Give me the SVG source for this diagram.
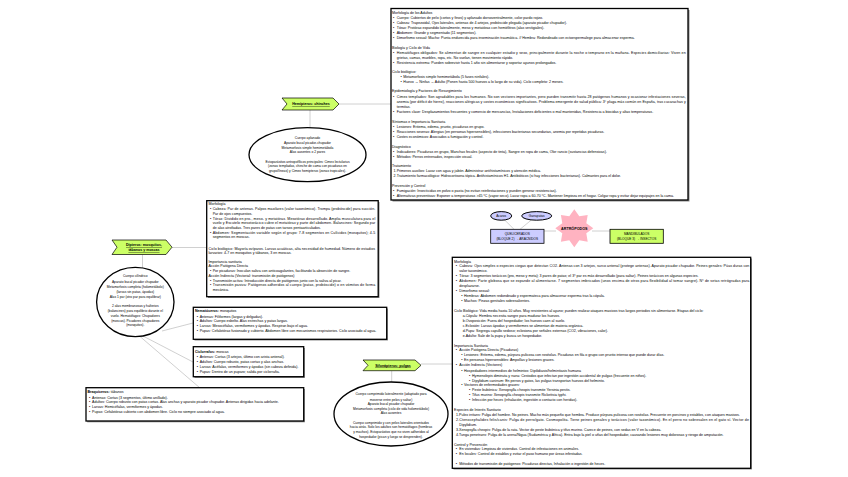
<svg xmlns="http://www.w3.org/2000/svg" width="848" height="477" viewBox="0 0 848 477">
<style>
text{font-family:"Liberation Sans",Arial,sans-serif;font-size:3.6px;fill:#000}
.e text,text.c{text-anchor:middle}
.e text{font-size:3.3px}
.box{fill:#fff;stroke:#000;stroke-width:1.3}
.sh{fill:#8c8c8c}
.ban{fill:#ccff66;stroke:#000;stroke-width:0.7}
.bt{font-weight:bold;text-decoration:underline;text-anchor:middle;font-size:3.6px}
.ell{fill:#fff;stroke:#000;stroke-width:1.3}
.con line{stroke:#c4c4c4;stroke-width:0.8}
.lav{fill:#ccccff;stroke:#000;stroke-width:0.8}
.grn{fill:#ccff66;stroke:#000;stroke-width:0.8}
.ov{fill:#ccccff;stroke:#000;stroke-width:1}
</style>
<rect width="848" height="477" fill="#fff"/>

<g class="con">
<line x1="339" y1="104" x2="391" y2="104"/>
<line x1="310" y1="110" x2="310" y2="128"/>
<line x1="172" y1="247.5" x2="207" y2="247.5"/>
<line x1="142.5" y1="254.5" x2="142.5" y2="268"/>
<line x1="162" y1="331" x2="193" y2="323"/>
<line x1="143" y1="336" x2="193" y2="362"/>
<line x1="140" y1="336.5" x2="200" y2="388"/>
<line x1="421" y1="364" x2="452" y2="364"/>
<line x1="391.7" y1="370.7" x2="391.7" y2="382"/>
<line x1="505" y1="220.3" x2="514" y2="229.3"/>
<line x1="531" y1="220.3" x2="520" y2="229.3"/>
<line x1="544" y1="231" x2="556" y2="231"/>
<line x1="592" y1="231" x2="610" y2="231"/>
</g>

<g id="box-hemipteros">
<rect class="sh" x="392.5" y="10" width="297" height="191.5"/>
<rect class="box" x="391" y="8.5" width="297" height="191.5"/>
<text x="392" y="14">Morfología de los Adultos</text>
<text x="393" y="18.6">•</text><text x="396.7" y="18.6">Cuerpo: Cubiertos de pelo (cortos y finos) y aplanado dorsoventralmente, color pardo rojizo.</text>
<text x="393" y="23.6">•</text><text x="396.7" y="23.6">Cabeza: Trapezoidal, Ojos laterales, antenas de 4 artejos, probóscide plegada (aparato picador chupador).</text>
<text x="393" y="28.6">•</text><text x="396.7" y="28.6">Tórax: Protórax expandido lateralmente, meso y metatórax con hemiélitros (alas vestigiales).</text>
<text x="393" y="33.6">•</text><text x="396.7" y="33.6">Abdomen: Grande y segmentado (11 segmentos).</text>
<text x="393" y="39">•</text><text x="396.7" y="39">Dimorfismo sexual: Macho: Punta endurecida para inseminación traumática. // Hembra: Redondeado con ectoespermalege para almacenar esperma.</text>
<text x="392" y="48.6">Biología y Ciclo de Vida</text>
<text x="393" y="53.6">•</text><text x="396.7" y="53.6" textLength="289" lengthAdjust="spacing">Hematófagos obligados: Se alimentan de sangre en cualquier estadio y sexo, principalmente durante la noche o temprano en la mañana. Especies domiciliarias: Viven en</text>
<text x="396.7" y="58.6">grietas, camas, muebles, ropa, etc. No vuelan, tienen movimiento rápido.</text>
<text x="393" y="63.6">•</text><text x="396.7" y="63.6">Resistencia extrema: Pueden sobrevivir hasta 1 año sin alimentarse y soportar ayunos prolongados.</text>
<text x="392" y="73">Ciclo biológico:</text>
<text x="400.5" y="78.3">•</text><text x="403.3" y="78.3">Metamorfosis simple hemimetábola (5 fases ninfales).</text>
<text x="400.5" y="83.3">•</text><text x="403.3" y="83.3">Huevo → Ninfas → Adulto (Ponen hasta 500 huevos a lo largo de su vida). Ciclo completo: 2 meses.</text>
<text x="392" y="92.3">Epidemiología y Factores de Resurgimiento</text>
<text x="393" y="97.6">•</text><text x="396.7" y="97.6" textLength="289" lengthAdjust="spacing">Cimex templados: Son agradables para los humanos. No son vectores importantes, pero pueden transmitir hasta 28 patógenos humanos y ocasionar infestaciones severas,</text>
<text x="396.7" y="102.8" textLength="289" lengthAdjust="spacing">anemia (por déficit de hierro), reacciones alérgicas y costes económicos significativos. Problema emergente de salud pública: 3ª plaga más común en España, tras cucarachas y</text>
<text x="396.7" y="108">termitas.</text>
<text x="393" y="113.3">•</text><text x="396.7" y="113.3">Factores clave: Desplazamientos frecuentes y comercio de mercancías, Instalaciones deficientes o mal mantenidas, Resistencia a biocidas y altas temperaturas.</text>
<text x="392" y="123">Síntomas e Importancia Sanitaria</text>
<text x="393" y="128">•</text><text x="396.7" y="128">Lesiones: Eritema, edema, prurito, picaduras en grupo.</text>
<text x="393" y="133">•</text><text x="396.7" y="133">Reacciones severas: Alergias (en personas hipersensibles), infecciones bacterianas secundarias, anemia por repetidas picaduras.</text>
<text x="393" y="138">•</text><text x="396.7" y="138">Costes económicos: Asociados a fumigación y control.</text>
<text x="392" y="148">Diagnóstico</text>
<text x="393" y="152.6">•</text><text x="396.7" y="152.6">Indicadores: Picaduras en grupo, Manchas fecales (aspecto de tinta), Sangre en ropa de cama, Olor rancio (sustancias defensivas).</text>
<text x="393" y="157.6">•</text><text x="396.7" y="157.6">Métodos: Perros entrenados, inspección visual.</text>
<text x="392" y="167.3">Tratamiento</text>
<text x="393.5" y="172.3">1.</text><text x="396.7" y="172.3">Primeros auxilios: Lavar con agua y jabón. Administrar antihistamínicos y atención médica.</text>
<text x="393.5" y="177.3">2.</text><text x="396.7" y="177.3">Tratamiento farmacológico: Hidrocortisona tópica. Antihistamínicos H1. Antibióticos (si hay infecciones bacterianas). Calmantes para el dolor.</text>
<text x="392" y="187">Prevención y Control</text>
<text x="393" y="191.6">•</text><text x="396.7" y="191.6">Fumigación: Insecticidas en polvo o pasta (no evitan reinfestaciones y pueden generar resistencias).</text>
<text x="393" y="196.6">•</text><text x="396.7" y="196.6">Alternativas preventivas: Exponer a temperaturas &gt;45 ºC (vapor seco). Lavar ropa a 60-70 ºC. Mantener limpieza en el hogar. Colgar ropa y evitar dejar equipajes en la cama.</text>
</g>

<g id="node-hemipteros">
<polygon class="ban" points="282,98 333,98 339,104 333,110 282,110 287,104"/>
<text class="bt" x="311" y="105.3">Hemípteros: chinches</text>
</g>

<g id="ellipse-hemipteros" class="e">
<ellipse class="ell" cx="307.5" cy="154.7" rx="58.5" ry="27"/>
<text x="307.5" y="138.5">Cuerpo aplanado</text>
<text x="307.5" y="143.5">Aparato bucal picador-chupador</text>
<text x="307.5" y="148.5">Metamorfosis simple hemimetábola</text>
<text x="307.5" y="153.2">Alas ausentes o 2 pares</text>
<text x="307.5" y="162.5">Ectoparásitos antropofílicos principales: Cimex lectularius</text>
<text x="307.5" y="167.2">(zonas templadas, chinche de cama con picaduras en</text>
<text x="307.5" y="172.2">grupo/líneas) y Cimex hemipterus (zonas tropicales).</text>
</g>

<g id="node-dipteros">
<polygon class="ban" points="112,240 166,240 172,247.2 166,254.5 112,254.5 117,247.2"/>
<text class="bt" x="144" y="246">Dípteros: mosquitos,</text>
<text class="bt" x="144" y="251.3">tábanos y moscas</text>
</g>

<g id="box-dipteros">
<rect class="sh" x="208" y="202" width="171.5" height="96"/>
<rect class="box" x="206.7" y="200.7" width="171.5" height="96"/>
<text x="208.5" y="205.2">Morfología</text>
<text x="210" y="209.9">•</text><text x="212.7" y="209.9" textLength="162.5" lengthAdjust="spacing">Cabeza: Par de antenas. Palpos maxilares (valor taxonómico). Trompa (probóscide) para succión.</text>
<text x="212.7" y="214.5">Par de ojos compuestos.</text>
<text x="210" y="219.5">•</text><text x="212.7" y="219.5" textLength="162.5" lengthAdjust="spacing">Tórax: Dividido en pro-, meso- y metatórax. Mesotórax desarrollado. Amplia musculatura para el</text>
<text x="212.7" y="223.9" textLength="162.5" lengthAdjust="spacing">vuelo y Escutelo mesotorácico cubre el metatórax y parte del abdomen. Balancines: Segundo par</text>
<text x="212.7" y="228.5">de alas atrofiadas. Tres pares de patas con tarsos pentaarticulados.</text>
<text x="210" y="233.5">•</text><text x="212.7" y="233.5" textLength="162.5" lengthAdjust="spacing">Abdomen: Segmentación variable según el grupo: 7-8 segmentos en Culícidos (mosquitos); 4-5</text>
<text x="212.7" y="238.2">segmentos en moscas.</text>
<text x="208.5" y="249.5" textLength="166.5" lengthAdjust="spacing">Ciclo biológico: Mayoría ovíparos. Larvas acuáticas, alta necesidad de humedad. Número de estadios</text>
<text x="208.5" y="254.2">larvarios: 4-7 en mosquitos y tábanos, 3 en moscas.</text>
<text x="208.5" y="262.9">Importancia sanitaria</text>
<text x="208.5" y="266.9">Acción Patógena Directa</text>
<text x="210" y="272.2">•</text><text x="212.7" y="272.2">Por picaduras: Inoculan saliva con anticoagulantes, facilitando la absorción de sangre.</text>
<text x="208.5" y="276.9">Acción Indirecta (Vectorial: transmisión de patógenos)</text>
<text x="210" y="281.5">•</text><text x="212.7" y="281.5">Transmisión activa: Introducción directa de patógenos junto con la saliva al picar.</text>
<text x="210" y="286.2">•</text><text x="212.7" y="286.2" textLength="162.5" lengthAdjust="spacing">Transmisión pasiva: Patógenos adheridos al cuerpo (patas, probóscide) o en vómitos de forma</text>
<text x="212.7" y="290.5">mecánica.</text>
</g>

<g id="ellipse-dipteros" class="e">
<ellipse class="ell" cx="135.3" cy="302" rx="38.7" ry="34.7"/>
<text x="135.3" y="276.9">Cuerpo cilíndrico</text>
<text x="135.3" y="282.9">Aparato bucal picador chupador</text>
<text x="135.3" y="287.5">Metamorfosis completa (holometábolo)</text>
<text x="135.3" y="292.5">(larvas sin patas, ápodas)</text>
<text x="135.3" y="297.5">Alas 1 par (otro par para equilibrar)</text>
<text x="135.3" y="306.9">2 alas membranosas y halterios</text>
<text x="135.3" y="311.9">(balancines) para equilibrio durante el</text>
<text x="135.3" y="316.5">vuelo. Hematófagos: Chupadores</text>
<text x="135.3" y="321.5">(moscas). Picadores chupadores</text>
<text x="135.3" y="326.2">(mosquitos).</text>
</g>

<g id="box-nematoceros">
<rect class="sh" x="194.5" y="308.5" width="193.4" height="32"/>
<rect class="box" x="193.3" y="307.3" width="193.4" height="32"/>
<text x="195" y="312.2"><tspan font-weight="bold">Nematóceros:</tspan> mosquitos</text>
<text x="196.8" y="317.9">•</text><text x="199.7" y="317.9">Antenas: Filiformes (largas y delgadas).</text>
<text x="196.8" y="322.2">•</text><text x="199.7" y="322.2">Adultos: Cuerpo esbelto. Alas estrechas y patas largas.</text>
<text x="196.8" y="327.2">•</text><text x="199.7" y="327.2">Larvas: Mesocéfalas, vermiformes y ápodas. Respiran bajo el agua.</text>
<text x="196.8" y="331.9">•</text><text x="199.7" y="331.9">Pupas: Cefalotórax fusionado y cubierto. Abdomen libre con mecanismos respiratorios. Ciclo asociado al agua.</text>
</g>

<g id="box-ciclorrafos">
<rect class="sh" x="194.5" y="348" width="110.4" height="30"/>
<rect class="box" x="193.3" y="346.7" width="110.4" height="30"/>
<text x="195" y="352.9"><tspan font-weight="bold">Ciclorrafos:</tspan> moscas</text>
<text x="196.8" y="358.2">•</text><text x="199.7" y="358.2">Antenas: Cortas (3 artejos, último con arista antenal).</text>
<text x="196.8" y="363.2">•</text><text x="199.7" y="363.2">Adultos: Cuerpo robusto, patas cortas y alas anchas.</text>
<text x="196.8" y="367.9">•</text><text x="199.7" y="367.9">Larvas: Acéfalas, vermiformes y ápodas (sin cabeza definida).</text>
<text x="196.8" y="372.9">•</text><text x="199.7" y="372.9">Pupas: Dentro de un puparo; salida por ciclorrafia.</text>
</g>

<g id="box-braquiceros">
<rect class="sh" x="87.2" y="389" width="217.7" height="33.3"/>
<rect class="box" x="86" y="387.7" width="217.7" height="33.3"/>
<text x="87.5" y="393.2"><tspan font-weight="bold">Braquíceros:</tspan> tábanos</text>
<text x="89" y="398.9">•</text><text x="92" y="398.9">Antenas: Cortas (3 segmentos, último anillado).</text>
<text x="89" y="403.2">•</text><text x="92" y="403.2">Adultos: Cuerpo robusto con patas cortas. Alas anchas y aparato picador chupador. Antenas dirigidas hacia adelante.</text>
<text x="89" y="408.2">•</text><text x="92" y="408.2">Larvas: Hemicéfalas, vermiformes y ápodas.</text>
<text x="89" y="413.2">•</text><text x="92" y="413.2">Pupas: Cefalotórax cubierto con abdomen libre. Ciclo no siempre asociado al agua.</text>
</g>

<g id="node-sifonapteros">
<polygon class="ban" points="363,360 415,360 421,365.3 415,370.7 363,370.7 368,365.3"/>
<text class="bt" x="393" y="366.6">Sifonápteros: pulgas</text>
</g>

<g id="ellipse-sifonapteros" class="e">
<ellipse class="ell" cx="391" cy="414" rx="57" ry="32"/>
<text x="391" y="395.2">Cuerpo comprimido lateralmente (adaptado para</text>
<text x="391" y="400.9">moverse entre pelos y saltar)</text>
<text x="391" y="404.9">Aparato bucal picador chupador</text>
<text x="391" y="409.5">Metamorfosis completa (ciclo de vida holometábolo)</text>
<text x="391" y="413.9">Alas ausentes</text>
<text x="391" y="423.5">Cuerpo comprimido y con pelos laterales orientados</text>
<text x="391" y="428.2">hacia atrás. Solo los adultos son hematófagos (hembras</text>
<text x="391" y="432.9">y machos). Ectoparásitos que no viven adheridos al</text>
<text x="391" y="437.5">hospedador (pican y luego se desprenden).</text>
</g>

<g id="box-sifonapteros">
<rect class="sh" x="453.5" y="258.5" width="298.4" height="211"/>
<rect class="box" x="452.3" y="257.3" width="298.4" height="211"/>
<text x="454" y="262.9">Morfología</text>
<text x="455.8" y="266.9">•</text><text x="459.3" y="266.9" textLength="290" lengthAdjust="spacing">Cabeza: Ojos simples o especies ciegas que detectan CO2. Antenas con 3 artejos, surco antenal (protege antenas). Aparato picador chupador. Peines genales: Púas duras con</text>
<text x="459.3" y="271.9">valor taxonómico.</text>
<text x="455.8" y="277.2">•</text><text x="459.3" y="277.2">Tórax: 3 segmentos torácicos (pro, meso y meta); 3 pares de patas; el 3º par es más desarrollado (para saltar). Peines torácicos en algunas especies.</text>
<text x="455.8" y="281.9">•</text><text x="459.3" y="281.9" textLength="290" lengthAdjust="spacing">Abdomen: Parte globosa que se expande al alimentarse. 7 segmentos imbricados (unos encima de otros para flexibilidad al tomar sangre). Nº de setas retrógradas para</text>
<text x="459.3" y="286.9">desplazarse.</text>
<text x="455.8" y="291.9">•</text><text x="459.3" y="291.9">Dimorfismo sexual:</text>
<text x="461.3" y="296.9">•</text><text x="464" y="296.9">Hembras: Abdomen redondeado y espermateca para almacenar esperma tras la cópula.</text>
<text x="461.3" y="301.9">•</text><text x="464" y="301.9">Machos: Pinzas genitales sobresalientes.</text>
<text x="454" y="312.2">Ciclo Biológico: Vida media hasta 10 años. Muy resistentes al ayuno; pueden realizar ataques masivos tras largos periodos sin alimentarse. Etapas del ciclo:</text>
<text x="462.7" y="317.2">a.Cópula: Hembra necesita sangre para madurar los huevos.</text>
<text x="462.7" y="321.9">b.Ovoposición: Fuera del hospedador; los huevos caen al suelo.</text>
<text x="462.7" y="326.5">c.Eclosión: Larvas ápodas y vermiformes se alimentan de materia orgánica.</text>
<text x="462.7" y="331.5">d.Pupa: Segrega capullo sedoso; eclosiona por señales externas (CO2, vibraciones, calor).</text>
<text x="462.7" y="336.5">e.Adulto: Sale de la pupa y busca un hospedador.</text>
<text x="454" y="346.5">Importancia Sanitaria</text>
<text x="455.8" y="351.2">•</text><text x="459.3" y="351.2">Acción Patógena Directa (Picaduras)</text>
<text x="461.3" y="355.9">•</text><text x="464" y="355.9">Lesiones: Eritema, edema, púrpura pulicosa con roséolas. Picaduras en fila o grupo con prurito intenso que puede durar días.</text>
<text x="461.3" y="360.5">•</text><text x="464" y="360.5">En personas hipersensibles: Ampollas y lesiones graves.</text>
<text x="455.8" y="366.2">•</text><text x="459.3" y="366.2">Acción Indirecta (Vectores)</text>
<text x="461.3" y="371.5">•</text><text x="464" y="371.5">Hospedadores intermedios de helmintos: Dipilidiasis/helmintiasis humana</text>
<text x="469" y="376.5">•</text><text x="472" y="376.5">Hymenolepis diminuta y nana: Cestodos que infectan por ingestión accidental de pulgas (frecuente en niños).</text>
<text x="469" y="381.5">•</text><text x="472" y="381.5">Dipylidium caninum: En perros y gatos, las pulgas transportan huevos del helminto.</text>
<text x="461.3" y="386.2">•</text><text x="464" y="386.2">Vectores de enfermedades graves:</text>
<text x="469" y="391.2">•</text><text x="472" y="391.2">Peste bubónica: Xenopsylla cheopis transmite Yersinia pestis.</text>
<text x="469" y="395.9">•</text><text x="472" y="395.9">Tifus murino: Xenopsylla cheopis transmite Rickettsia typhi.</text>
<text x="469" y="400.5">•</text><text x="472" y="400.5">Infección por heces (inhalación, ingestión o contacto con heridas).</text>
<text x="454" y="410.5">Especies de Interés Sanitario</text>
<text x="456" y="416.2">1.Pulex irritans: Pulga del hombre. No peines. Macho más pequeño que hembra. Produce púrpura pulicosa con roséolas. Frecuente en porcinos y establos, con ataques masivos.</text>
<text x="456" y="421.2" textLength="293" lengthAdjust="spacing">2.Ctenocephalides felis/canis: Pulga de perro/gato. Cosmopolita. Tiene peines genales y torácicos (valor taxonómico). En el perro no sobresalen en el gato sí. Vector de</text>
<text x="459.3" y="425.9">Dipylidium.</text>
<text x="456" y="430.9">3.Xenopsylla cheopis: Pulga de la rata. Vector de peste bubónica y tifus murino. Carece de peines, con sedas en V en la cabeza.</text>
<text x="456" y="435.9">4.Tunga penetrans: Pulga de la arena/Nigua (Sudamérica y África). Entra bajo la piel o uñas del hospedador, causando lesiones muy dolorosas y riesgo de amputación.</text>
<text x="454" y="445.9">Control y Prevención</text>
<text x="455.8" y="450.2">•</text><text x="459.3" y="450.2">En viviendas: Limpieza de viviendas. Control de infestaciones en animales.</text>
<text x="455.8" y="455.2">•</text><text x="459.3" y="455.2">En locales: Control de establos y evitar el paso humano por áreas infestadas.</text>
<text x="455.8" y="464.9">•</text><text x="459.3" y="464.9">Métodos de transmisión de patógenos: Picaduras directas, Inhalación o ingestión de heces.</text>
</g>

<g id="node-acaros">
<ellipse class="ov" cx="501.2" cy="215.9" rx="10.5" ry="4.3"/>
<text class="c" x="501.2" y="217.1" style="font-size:3.2px">Ácaros</text>
</g>
<g id="node-garrapatas">
<ellipse class="ov" cx="536.7" cy="215.9" rx="15" ry="4.3"/>
<text class="c" x="536.7" y="217.1" style="font-size:3.2px">Garrapatas</text>
</g>
<g id="node-quelicerados">
<rect class="lav" x="490.7" y="229.3" width="53.3" height="14"/>
<text class="c" x="517.3" y="235.2" style="font-size:3.2px">QUELICERADOS</text>
<text class="c" x="517.3" y="240.2" style="font-size:3.2px">(BLOQUE 2) → ARÁCNIDOS</text>
</g>
<g id="node-artropodos">
<polygon fill="#ffb3c1" points="574.3,209.3 579.3,216.3 587.7,214.9 586.3,223.3 593.3,228.3 586.3,233.3 587.7,241.7 579.3,240.3 574.3,247.3 569.3,240.3 560.9,241.7 562.3,233.3 555.3,228.3 562.3,223.3 560.9,214.9 569.3,216.3"/>
<text class="c" x="574.3" y="229.7" style="font-size:3.7px;font-weight:bold">ARTRÓPODOS</text>
</g>
<g id="node-mandibulados">
<rect class="grn" x="610" y="229.3" width="53.3" height="14"/>
<text class="c" x="636.7" y="235.2" style="font-size:3.2px">MANDIBULADOS</text>
<text class="c" x="636.7" y="240.2" style="font-size:3.2px">(BLOQUE 3) → INSECTOS</text>
</g>
</svg>
